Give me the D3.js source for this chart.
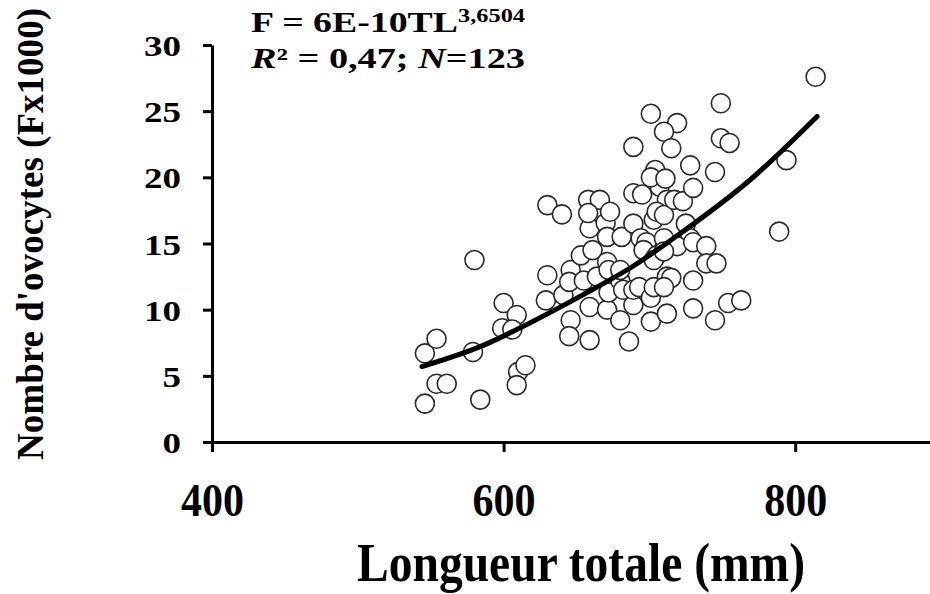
<!DOCTYPE html>
<html>
<head>
<meta charset="utf-8">
<script src="https://cdn.jsdelivr.net/npm/d3@7"></script>
<style>
  body { margin: 0; background: #fff; }
  svg text { font-family: "Liberation Serif", "Times New Roman", serif; font-weight: bold; fill: #000; }
</style>
</head>
<body>
<div id="chart"></div>
<script>
// longueur totale (mm) et nombre d'ovocytes (x1000)
var tl = [546, 584, 554, 561, 546, 554, 579, 580, 600, 609, 599, 606, 610, 609, 615,
          630, 640, 630, 629, 641, 646, 645, 646, 645, 655, 653, 659, 658, 666, 658,
          661, 664, 659, 659, 670, 673, 671, 671, 672, 671, 672, 680, 680, 682, 681,
          689, 686, 689, 693, 701, 701, 703, 712, 712,
          689, 689, 695, 707, 712, 703, 705, 710, 694, 698, 696, 705, 710,
          717, 723, 725, 728, 719, 730, 739, 739, 746, 703, 710, 715, 730, 710,
          730, 745, 754, 763,
          789, 794, 814, 749, 701, 719, 710, 749, 755, 689, 715, 728, 745, 704, 701, 711, 730,
          680];
var fec = [2.9, 3.2, 4.4, 4.4, 6.7, 7.8, 6.8, 13.75, 10.5, 9.6, 8.6, 8.5, 5.3, 4.3, 5.8,
           17.9, 17.2, 12.6, 10.7, 11.1, 13.0, 12.1, 9.2, 8.0, 12.2, 14.1, 16.15, 18.3, 18.3, 17.3,
           14.5, 12.5, 10.2, 7.7, 16.55, 17.4, 15.5, 13.6, 13.0, 10.0, 11.3, 12.2, 9.2, 11.5, 15.5,
           10.35, 7.6, 11.5, 11.7, 10.9, 9.1, 11.7, 9.7, 12.5,
           16.5, 18.8, 18.7, 19.3, 18.3, 16.8, 17.4, 17.15, 15.4, 15.1, 14.5, 14.1, 15.4,
           18.3, 18.2, 16.5, 15.4, 14.8, 15.1, 14.8, 13.5, 13.5, 13.75, 14.4, 12.4, 12.2, 11.7,
           10.1, 9.2, 10.5, 10.7,
           15.9, 21.3, 27.6, 25.6, 24.8, 24.1, 23.45, 22.95, 22.6, 22.3, 22.2, 20.9, 20.4, 20.55, 20.0, 19.9, 19.2,
           13.0];

// courbe d'ajustement F = 6E-10 TL^3,6504
var fitTL = [544, 586, 618, 654, 689, 723, 769, 815];
var fitF = [5.7, 7.3, 9.0, 11.1, 13.3, 15.9, 19.8, 24.6];

var xTicks = [400, 600, 800];
var yTicks = [0, 5, 10, 15, 20, 25, 30];

var width = 930, height = 594;

var svg = d3.select("#chart").append("svg")
    .attr("width", width)
    .attr("height", height);

var x = d3.scaleLinear().domain([400, 900]).range([212, 941]);
var y = d3.scaleLinear().domain([0, 30]).range([442, 45]);

// points
svg.append("g").selectAll("circle")
    .data(d3.range(tl.length))
    .join("circle")
    .attr("cx", function (i) { return x(tl[i]); })
    .attr("cy", function (i) { return y(fec[i]); })
    .attr("r", 9.5)
    .attr("fill", "#fff")
    .attr("stroke", "#2a2a2a")
    .attr("stroke-width", 1.6);

// courbe
var line = d3.line()
    .x(function (i) { return x(fitTL[i]); })
    .y(function (i) { return y(fitF[i]); })
    .curve(d3.curveMonotoneX);

svg.append("path")
    .attr("d", line(d3.range(fitTL.length)))
    .attr("fill", "none")
    .attr("stroke", "#000")
    .attr("stroke-width", 5)
    .attr("stroke-linecap", "round");

// axes
var yAxis = svg.append("g")
    .attr("transform", "translate(212,0)")
    .call(d3.axisLeft(y).tickValues(yTicks).tickSize(9).tickSizeOuter(0).tickPadding(8));

var xAxis = svg.append("g")
    .attr("transform", "translate(0,442)")
    .call(d3.axisBottom(x).tickValues(xTicks).tickSize(10).tickSizeOuter(0).tickPadding(8));

[yAxis, xAxis].forEach(function (g) {
    g.selectAll("path, line").attr("stroke", "#000").attr("stroke-width", 3);
});

yAxis.selectAll("text")
    .attr("x", -31)
    .attr("dy", "0.35em")
    .style("font-size", "30px")
    .attr("textLength", function (d) { return String(d).length * 18.5; })
    .attr("lengthAdjust", "spacingAndGlyphs");

xAxis.selectAll("text")
    .attr("y", 74)
    .attr("dy", 0)
    .style("font-size", "46px")
    .attr("textLength", 63)
    .attr("lengthAdjust", "spacingAndGlyphs");

// titres des axes
svg.append("text")
    .attr("x", 581)
    .attr("y", 581)
    .attr("text-anchor", "middle")
    .style("font-size", "54px")
    .attr("textLength", 448)
    .attr("lengthAdjust", "spacingAndGlyphs")
    .text("Longueur totale (mm)");

svg.append("text")
    .attr("transform", "translate(43,234) rotate(-90)")
    .attr("text-anchor", "middle")
    .style("font-size", "37px")
    .attr("textLength", 452)
    .attr("lengthAdjust", "spacingAndGlyphs")
    .text("Nombre d'ovocytes (Fx1000)");

// équation
var eq = svg.append("text")
    .attr("x", 251)
    .attr("y", 32)
    .style("font-size", "29px");
eq.append("tspan").attr("textLength", 207).attr("lengthAdjust", "spacingAndGlyphs").text("F = 6E-10TL");
eq.append("tspan").attr("dy", -10).style("font-size", "18px").attr("textLength", 67)
    .attr("lengthAdjust", "spacingAndGlyphs").text("3,6504");

var r2 = svg.append("text")
    .attr("x", 251)
    .attr("y", 68)
    .style("font-size", "29px")
    .attr("textLength", 274)
    .attr("lengthAdjust", "spacingAndGlyphs");
r2.append("tspan").style("font-style", "italic").text("R");
r2.append("tspan").text("² = 0,47; ");
r2.append("tspan").style("font-style", "italic").text("N");
r2.append("tspan").text("=123");
</script>
</body>
</html>
